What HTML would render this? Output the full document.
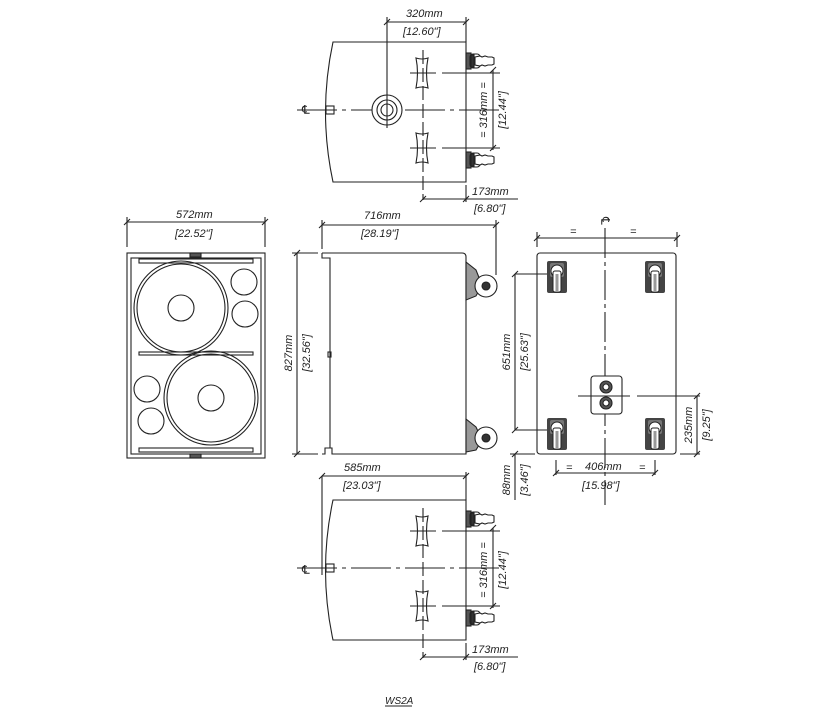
<!DOCTYPE html>
<html><head><meta charset="utf-8"><style>
html,body{margin:0;padding:0;background:#fff;}
svg{display:block;}
text{font-family:"Liberation Sans",sans-serif;font-style:italic;font-size:11px;fill:#222;}
</style></head><body>
<svg width="835" height="723" viewBox="0 0 835 723" xmlns="http://www.w3.org/2000/svg">
<defs>
<g id="caster">
  <rect x="0" y="-8" width="5" height="16" fill="#555"/>
  <rect x="4" y="-7" width="10" height="14" rx="3" fill="#fff" stroke="#222"/>
  <path d="M9,-4 L14,-5 L16,-4 L19,-5 L22,-4 L26,-4 L28,-3 L28,3 L26,4 L22,4 L19,5 L16,4 L14,5 L9,4 Z" fill="#fff" stroke="#222"/>
  <rect x="5" y="-6" width="3" height="12" fill="#333"/>
</g>
<g id="bcaster">
  <rect x="0" y="0" width="20" height="32" rx="2" fill="#444"/>
  <rect x="3" y="2" width="14" height="14" rx="2" fill="#777"/>
  <circle cx="10" cy="10" r="6" fill="#fff" stroke="#222"/>
  <rect x="6" y="10" width="8" height="21" rx="2" fill="#fff" stroke="#222"/>
  <rect x="8.5" y="13" width="3" height="18" fill="#999"/>
</g>
<g id="handle">
  <path d="M-6,-15 Q0,-13 6,-15 Q3,0 6,15 Q0,13 -6,15 Q-3,0 -6,-15 Z" fill="#fff" stroke="#222"/>
</g>
<g id="topview" fill="none" stroke="#222" stroke-width="1.1">
  <path d="M333,42 L466,42 L466,182 L333,182 Q318,112 333,42 Z" fill="#fff"/>
  <rect x="326" y="106" width="8" height="8" fill="#fff"/>
  <line x1="297" y1="110" x2="500" y2="110" stroke-dasharray="40,5,4,5"/>
  <use href="#handle" x="422" y="73"/>
  <use href="#handle" x="422" y="148"/>
  <line x1="410" y1="73" x2="436" y2="73"/><line x1="442" y1="73" x2="500" y2="73" />
  <line x1="410" y1="148" x2="436" y2="148"/><line x1="442" y1="148" x2="500" y2="148"/>
  <line x1="423" y1="50" x2="423" y2="200" stroke-dasharray="14,4"/>
  <use href="#caster" x="466" y="61"/>
  <use href="#caster" x="466" y="160"/>
  <line x1="493" y1="70" x2="493" y2="150"/>
  <line x1="490" y1="73" x2="496" y2="67"/><line x1="490" y1="151" x2="496" y2="145"/>
  <line x1="423" y1="199" x2="518" y2="199"/>
  <line x1="466" y1="185" x2="466" y2="202"/>
  <line x1="420" y1="202" x2="426" y2="196"/><line x1="463" y1="202" x2="469" y2="196"/>
</g>
</defs>

<!-- Top view 1 -->
<use href="#topview"/>
<g fill="none" stroke="#222" stroke-width="1.1">
  <circle cx="387" cy="110" r="15" fill="#fff"/>
  <circle cx="387" cy="110" r="6"/>
  <circle cx="387" cy="110" r="10"/>
  <line x1="387" y1="17" x2="387" y2="128"/>
  <line x1="384" y1="25" x2="390" y2="19"/>
  <line x1="387" y1="22" x2="466" y2="22"/>
  <line x1="466" y1="17" x2="466" y2="42"/>
  <line x1="463" y1="25" x2="469" y2="19"/>
</g>
<text x="302" y="114" style="font-style:normal;font-size:12px">℄</text>
<text x="406" y="17">320mm</text>
<text x="403" y="35">[12.60"]</text>
<text transform="translate(487,110) rotate(-90)" text-anchor="middle">= 316mm =</text>
<text transform="translate(506,110) rotate(-90)" text-anchor="middle">[12.44"]</text>
<text x="472" y="195">173mm</text>
<text x="474" y="212">[6.80"]</text>

<!-- Top view 2 -->
<g transform="translate(0,458)">
  <use href="#topview"/>
  <g stroke="#222" stroke-width="1.1" fill="none">
  <line x1="322" y1="18" x2="322" y2="117"/>
  <line x1="322" y1="18" x2="466" y2="18"/>
  <line x1="466" y1="14" x2="466" y2="42"/>
  <line x1="319" y1="21" x2="325" y2="15"/>
  <line x1="463" y1="21" x2="469" y2="15"/>
  </g>
</g>
<text x="302" y="574" style="font-style:normal;font-size:12px">℄</text>
<text x="344" y="471">585mm</text>
<text x="343" y="489">[23.03"]</text>
<text transform="translate(487,570) rotate(-90)" text-anchor="middle">= 316mm =</text>
<text transform="translate(506,570) rotate(-90)" text-anchor="middle">[12.44"]</text>
<text x="472" y="653">173mm</text>
<text x="474" y="670">[6.80"]</text>

<!-- Front view -->
<g fill="none" stroke="#222" stroke-width="1.1">
  <rect x="127" y="253" width="138" height="205" fill="#fff"/>
  <rect x="131" y="258" width="130" height="196"/>
  <rect x="139" y="259" width="114" height="4"/>
  <rect x="139" y="352" width="114" height="3"/>
  <rect x="139" y="448" width="114" height="4"/>
  <rect x="190" y="253" width="11" height="4" fill="#555"/>
  <rect x="190" y="454" width="11" height="4" fill="#555"/>
  <circle cx="181" cy="308" r="47"/><circle cx="181" cy="308" r="44"/>
  <circle cx="181" cy="308" r="13"/>
  <circle cx="244" cy="282" r="13"/><circle cx="245" cy="314" r="13"/>
  <circle cx="211" cy="398" r="47"/><circle cx="211" cy="398" r="44"/>
  <circle cx="211" cy="398" r="13"/>
  <circle cx="147" cy="389" r="13"/><circle cx="151" cy="421" r="13"/>
  <line x1="127" y1="222" x2="265" y2="222"/>
  <line x1="127" y1="217" x2="127" y2="247"/><line x1="265" y1="217" x2="265" y2="247"/>
  <line x1="124" y1="225" x2="130" y2="219"/><line x1="262" y1="225" x2="268" y2="219"/>
</g>
<text x="176" y="218">572mm</text>
<text x="175" y="237">[22.52"]</text>

<!-- Side view -->
<g fill="none" stroke="#222" stroke-width="1.1">
  <path d="M322,253 L462,253 Q466,253 466,257 L466,454 L332,454 L332,448 L325,448 L325,454 L322,454" fill="#fff"/>
  <path d="M322,253 L322,258 L330,258 L330,448"/>
  <rect x="328" y="352" width="3" height="5"/>
  <path d="M466,262 L476,270 L482,285 L476,296 L466,300 Z" fill="#999"/>
  <circle cx="486" cy="286" r="11" fill="#fff"/><circle cx="486" cy="286" r="4" fill="#333"/>
  <path d="M466,419 L476,427 L482,440 L476,450 L466,452 Z" fill="#999"/>
  <circle cx="486" cy="438" r="11" fill="#fff"/><circle cx="486" cy="438" r="4" fill="#333"/>
  <line x1="322" y1="225" x2="496" y2="225"/>
  <line x1="322" y1="220" x2="322" y2="249"/><line x1="496" y1="220" x2="496" y2="275"/>
  <line x1="319" y1="228" x2="325" y2="222"/><line x1="493" y1="228" x2="499" y2="222"/>
  <line x1="297" y1="253" x2="297" y2="454"/>
  <line x1="292" y1="253" x2="318" y2="253"/><line x1="292" y1="454" x2="318" y2="454"/>
  <line x1="294" y1="256" x2="300" y2="250"/><line x1="294" y1="457" x2="300" y2="451"/>
</g>
<text x="364" y="219">716mm</text>
<text x="361" y="237">[28.19"]</text>
<text transform="translate(292,353) rotate(-90)" text-anchor="middle">827mm</text>
<text transform="translate(310,353) rotate(-90)" text-anchor="middle">[32.56"]</text>

<!-- Bottom view -->
<g fill="none" stroke="#222" stroke-width="1.1">
  <rect x="537" y="253" width="139" height="201" rx="3" fill="#fff"/>
  <line x1="605" y1="228" x2="605" y2="505" stroke-dasharray="30,4,4,4"/>
  <line x1="537" y1="238" x2="677" y2="238"/>
  <line x1="537" y1="232" x2="537" y2="247"/><line x1="677" y1="232" x2="677" y2="247"/>
  <line x1="534" y1="241" x2="540" y2="235"/><line x1="674" y1="241" x2="680" y2="235"/>
  <rect x="591" y="376" width="31" height="38" rx="3" fill="#fff"/>
  <circle cx="606" cy="387" r="6" fill="#555"/><circle cx="606" cy="403" r="6" fill="#555"/>
  <circle cx="606" cy="387" r="3" fill="#fff"/><circle cx="606" cy="403" r="3" fill="#fff"/>
  <line x1="578" y1="396" x2="630" y2="396"/>
  <line x1="637" y1="396" x2="700" y2="396"/>
  <line x1="697" y1="396" x2="697" y2="454"/>
  <line x1="680" y1="454" x2="700" y2="454"/>
  <line x1="694" y1="399" x2="700" y2="393"/><line x1="694" y1="457" x2="700" y2="451"/>
  <line x1="515" y1="274" x2="515" y2="430"/>
  <line x1="515" y1="274" x2="550" y2="274"/><line x1="515" y1="430" x2="550" y2="430"/>
  <line x1="512" y1="277" x2="518" y2="271"/><line x1="512" y1="433" x2="518" y2="427"/>
  <line x1="515" y1="454" x2="515" y2="500"/>
  <line x1="510" y1="454" x2="535" y2="454"/>
  <line x1="512" y1="457" x2="518" y2="451"/>
  <line x1="556" y1="460" x2="556" y2="475"/><line x1="655" y1="460" x2="655" y2="475"/>
  <line x1="556" y1="473" x2="655" y2="473"/>
  <line x1="553" y1="476" x2="559" y2="470"/><line x1="652" y1="476" x2="658" y2="470"/>
</g>
<use href="#bcaster" x="547" y="261"/>
<use href="#bcaster" x="645" y="261"/>
<use href="#bcaster" x="547" y="418"/>
<use href="#bcaster" x="645" y="418"/>
<text x="0" y="0" style="font-style:normal;font-size:12px" transform="translate(601,217) rotate(90)">℄</text>
<text x="570" y="235">=</text>
<text x="630" y="235">=</text>
<text transform="translate(510,352) rotate(-90)" text-anchor="middle">651mm</text>
<text transform="translate(528,352) rotate(-90)" text-anchor="middle">[25.63"]</text>
<text transform="translate(692,425) rotate(-90)" text-anchor="middle">235mm</text>
<text transform="translate(710,425) rotate(-90)" text-anchor="middle">[9.25"]</text>
<text transform="translate(510,480) rotate(-90)" text-anchor="middle">88mm</text>
<text transform="translate(528,480) rotate(-90)" text-anchor="middle">[3.46"]</text>
<text x="566" y="471">=</text>
<text x="639" y="471">=</text>
<text x="585" y="470">406mm</text>
<text x="582" y="489">[15.98"]</text>

<text x="385" y="704" style="font-size:10px">WS2A</text>
<line x1="385" y1="706" x2="412" y2="706" stroke="#222"/>
</svg>
</body></html>
